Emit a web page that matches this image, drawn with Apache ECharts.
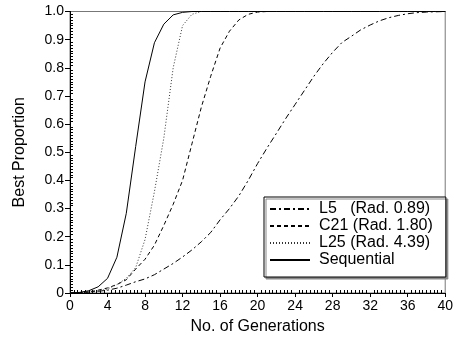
<!DOCTYPE html>
<html>
<head>
<meta charset="utf-8">
<script src="https://cdn.jsdelivr.net/npm/echarts@6/dist/echarts.min.js"></script>
<style>html,body{margin:0;padding:0;background:#fff}#c{width:456px;height:341px}</style>
</head>
<body>
<div id="c"></div>
<script>
var generations = [0,1,2,3,4,5,6,7,8,9,10,11,12,13,14,15,16,17,18,19,20,21,22,23,24,25,26,27,28,29,30,31,32,33,34,35,36,37,38,39,40];
var seriesNames = ['L5   (Rad. 0.89)', 'C21 (Rad. 1.80)', 'L25 (Rad. 4.39)', 'Sequential'];
var l5 = [0,0.001,0.003,0.006,0.01,0.017,0.028,0.04,0.05,0.065,0.085,0.105,0.128,0.153,0.182,0.215,0.26,0.3,0.345,0.4,0.46,0.515,0.567,0.62,0.67,0.72,0.77,0.815,0.855,0.89,0.912,0.935,0.952,0.967,0.978,0.986,0.992,0.996,0.998,0.999,1];
var c21 = [0,0.001,0.004,0.01,0.018,0.03,0.047,0.085,0.12,0.17,0.24,0.315,0.4,0.53,0.66,0.77,0.87,0.93,0.97,0.99,0.998,1,1,1,1,1,1,1,1,1,1,1,1,1,1,1,1,1,1,1,1];
var l25 = [0,0.001,0.003,0.007,0.014,0.03,0.052,0.09,0.19,0.36,0.55,0.8,0.95,0.99,1,1,1,1,1,1,1,1,1,1,1,1,1,1,1,1,1,1,1,1,1,1,1,1,1,1,1];
var sequential = [0,0.002,0.008,0.022,0.052,0.127,0.283,0.52,0.75,0.889,0.955,0.988,0.997,1,1,1,1,1,1,1,1,1,1,1,1,1,1,1,1,1,1,1,1,1,1,1,1,1,1,1,1];
var xTicks = [0,4,8,12,16,20,24,28,32,36,40];
var yTicks = ['0','0.1','0.2','0.3','0.4','0.5','0.6','0.7','0.8','0.9','1.0'];

function pairs(vals){ return vals.map(function(v,i){ return [generations[i], v]; }); }
var font = 'Arial, "Liberation Sans", sans-serif';
var styles = [
  {type:[6,3,2,3], color:'#000'},
  {type:[4,3], color:'#000'},
  {type:[1,2], color:'#333'},
  {type:'solid', color:'#000'}
];
var datasets = [l5, c21, l25, sequential];

var chart = echarts.init(document.getElementById('c'), null, {renderer:'canvas'});
chart.setOption({
  animation:false,
  backgroundColor:'#fff',
  grid:{left:70, right:7, top:11.5, bottom:48, show:true, borderColor:'#777', borderWidth:1},
  xAxis:{
    type:'value', min:0, max:40, interval:4,
    name:'No. of Generations', nameLocation:'middle', nameGap:26,
    nameTextStyle:{fontFamily:font, fontSize:16, color:'#000'},
    axisLine:{onZero:false, lineStyle:{color:'#000', width:1}},
    axisTick:{length:4, lineStyle:{color:'#000'}},
    minorTick:{show:true, splitNumber:10, length:-3, lineStyle:{color:'#000'}},
    axisLabel:{fontFamily:font, fontSize:14, color:'#000', margin:6,
      formatter:function(v){ return xTicks.indexOf(v) >= 0 ? String(v) : ''; }},
    splitLine:{show:false}
  },
  yAxis:{
    type:'value', min:0, max:1, interval:0.1,
    name:'Best Proportion', nameLocation:'middle', nameGap:42,
    nameTextStyle:{fontFamily:font, fontSize:16, color:'#000'},
    axisLine:{onZero:false, lineStyle:{color:'#000', width:1}},
    axisTick:{length:5, lineStyle:{color:'#000'}},
    minorTick:{show:true, splitNumber:10, length:-3, lineStyle:{color:'#000'}},
    axisLabel:{fontFamily:font, fontSize:14, color:'#000', margin:6,
      formatter:function(v){ return yTicks[Math.round(v*10)]; }},
    splitLine:{show:false}
  },
  legend:{
    orient:'vertical', left:264, top:197,
    padding:[4,13,9,5], itemGap:1, itemWidth:40, itemHeight:14,
    backgroundColor:'#fff', borderColor:'#000', borderWidth:1,
    shadowColor:'#888', shadowOffsetX:2, shadowOffsetY:2, shadowBlur:0,
    itemStyle:{opacity:0, borderWidth:0},
    textStyle:{fontFamily:font, fontSize:16, color:'#000', padding:[0,0,0,4]},
    data:seriesNames
  },
  series: datasets.map(function(d,i){
    return {
      name:seriesNames[i], type:'line', data:pairs(d), symbol:'none', showSymbol:false,
      smooth:false, lineStyle:{width:1, color:styles[i].color, type:styles[i].type},
      itemStyle:{color:styles[i].color}, z:2+i
    };
  })
});
</script>
</body>
</html>
